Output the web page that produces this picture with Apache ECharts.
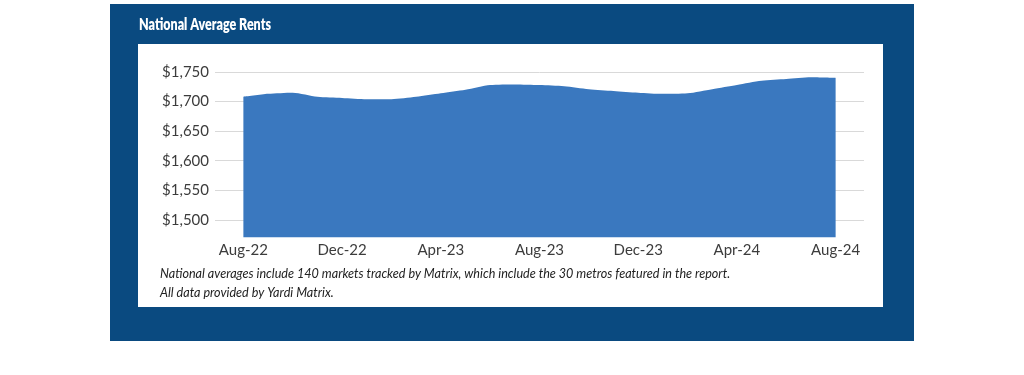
<!DOCTYPE html>
<html>
<head>
<meta charset="utf-8">
<script src="https://cdn.jsdelivr.net/npm/echarts@6/dist/echarts.min.js"></script>
<style>
html,body{margin:0;padding:0;background:#fff;}
#c{width:1024px;height:375px;}
</style>
</head>
<body>
<div id="c"></div>
<script>
const months = ['Aug-22','Sep-22','Oct-22','Nov-22','Dec-22','Jan-23','Feb-23','Mar-23','Apr-23','May-23','Jun-23','Jul-23','Aug-23','Sep-23','Oct-23','Nov-23','Dec-23','Jan-24','Feb-24','Mar-24','Apr-24','May-24','Jun-24','Jul-24','Aug-24'];
const rents = [1708,1713,1715,1708,1706,1704,1704,1708,1714,1720,1728,1729,1728,1726,1721,1718,1715,1713,1714,1721,1728,1735,1738,1741,1740];
const xTickLabels = ['Aug-22','Dec-22','Apr-23','Aug-23','Dec-23','Apr-24','Aug-24'];
const yTicks = [1500,1550,1600,1650,1700,1750];
const titleText = 'National Average Rents';
const noteLines = [
  'National averages include 140 markets tracked by Matrix, which include the 30 metros featured in the report.',
  'All data provided by Yardi Matrix.'
];

const xTickIdx = xTickLabels.map(l => months.indexOf(l));
const seriesData = rents.map((v, i) => [i, v]);

const chart = echarts.init(document.getElementById('c'), null, {renderer: 'canvas'});
chart.setOption({
  animation: false,
  backgroundColor: '#ffffff',
  graphic: [
    {type: 'rect', z: -10, shape: {x: 110, y: 4, width: 804, height: 337}, style: {fill: '#0a4a80'}},
    {type: 'rect', z: -9, shape: {x: 138, y: 44, width: 745, height: 263}, style: {fill: '#ffffff'}},
    {type: 'text', z: 10, x: 139, y: 25, scaleX: 0.78, style: {text: titleText, fill: '#ffffff', font: '800 16px Lato, sans-serif', textVerticalAlign: 'middle'}},
    {type: 'text', z: 10, x: 160, y: 274, style: {text: noteLines[0], fill: '#222222', font: 'italic 12.6px Lato, sans-serif', textVerticalAlign: 'middle'}},
    {type: 'text', z: 10, x: 160, y: 293, style: {text: noteLines[1], fill: '#222222', font: 'italic 12.6px Lato, sans-serif', textVerticalAlign: 'middle'}}
  ],
  grid: {left: 215, right: 160, top: 72, bottom: 137.5, containLabel: false},
  xAxis: {
    type: 'value', min: -1.15, max: 25.15,
    axisLine: {show: false},
    axisTick: {show: false, customValues: xTickIdx},
    splitLine: {show: false},
    axisLabel: {
      customValues: xTickIdx, margin: 5,
      formatter: v => months[Math.round(v)] || '',
      color: '#3c3c3c', fontSize: 15, fontFamily: 'Lato, sans-serif'
    }
  },
  yAxis: {
    type: 'value', min: 1470, max: 1750,
    axisLine: {show: false},
    axisTick: {show: false, customValues: yTicks},
    splitLine: {show: true, lineStyle: {color: '#d9d9d9', width: 1}},
    axisLabel: {
      customValues: yTicks, margin: 6,
      formatter: v => '$' + v.toLocaleString('en-US'),
      color: '#3c3c3c', fontSize: 15, fontFamily: 'Lato, sans-serif'
    }
  },
  series: [{
    type: 'line', data: seriesData, smooth: 0.25, symbol: 'none',
    lineStyle: {width: 0}, areaStyle: {color: '#3a78bf', opacity: 1, origin: 'start'},
    z: 3
  }]
});
</script>
</body>
</html>
